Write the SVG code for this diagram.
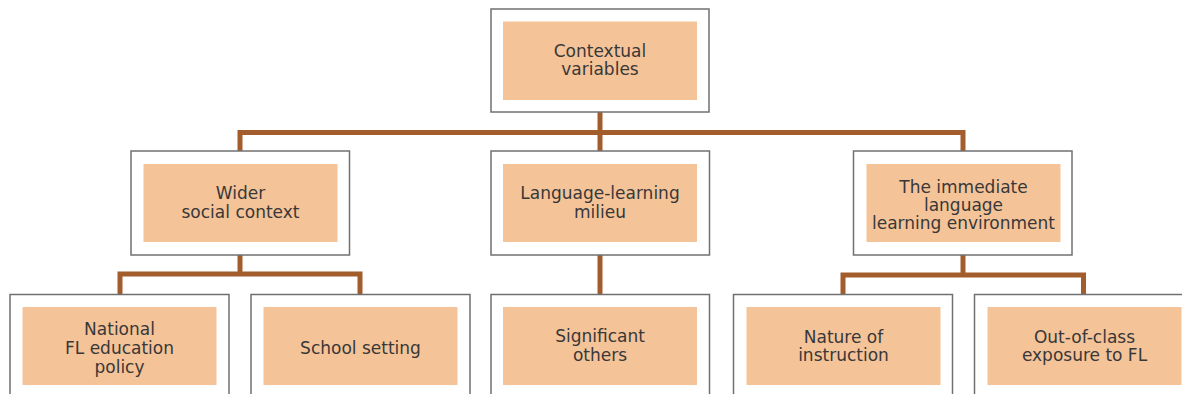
<svg xmlns="http://www.w3.org/2000/svg" width="1182" height="394" viewBox="0 0 1182 394">
<style>
.outer{fill:#fff;stroke:#707070;stroke-width:1.5}
.inner{fill:#F5C398}
.t{font-family:"DejaVu Sans",sans-serif;font-size:17px;fill:#383838;text-anchor:middle}
.c{fill:none;stroke:#A35C2C;stroke-width:5;stroke-linejoin:miter}
</style>
<rect width="1182" height="394" fill="#fff"/>
<g id="connectors">
<path class="c" d="M600 112 V151"/>
<path class="c" d="M240 151 V132.5 H963 V151"/>
<path class="c" d="M240 255 V274"/>
<path class="c" d="M120 294.5 V274 H360 V294.5"/>
<path class="c" d="M600 255 V294.5"/>
<path class="c" d="M963 255 V275"/>
<path class="c" d="M843 294.5 V275 H1083.5 V294.5"/>
</g>
<g id="contextual-variables">
<rect class="outer" x="491" y="9" width="218" height="103"/>
<rect class="inner" x="503" y="21.5" width="194" height="78.5"/>
<text class="t" x="600" y="57">Contextual</text>
<text class="t" x="600" y="75">variables</text>
</g>
<g id="wider-social-context">
<rect class="outer" x="131" y="151" width="218.5" height="104"/>
<rect class="inner" x="143.5" y="164" width="194" height="78"/>
<text class="t" x="240.5" y="199">Wider</text>
<text class="t" x="240.5" y="217.5">social context</text>
</g>
<g id="language-learning-milieu">
<rect class="outer" x="491" y="151" width="218.5" height="104"/>
<rect class="inner" x="503" y="164" width="194" height="78"/>
<text class="t" x="600" y="199">Language-learning</text>
<text class="t" x="600" y="217.5">milieu</text>
</g>
<g id="immediate-environment">
<rect class="outer" x="853.5" y="151" width="218.5" height="104"/>
<rect class="inner" x="866.5" y="164" width="194" height="78"/>
<text class="t" x="963.5" y="193">The immediate</text>
<text class="t" x="963.5" y="211">language</text>
<text class="t" x="963.5" y="229">learning environment</text>
</g>
<g id="national-policy">
<rect class="outer" x="10" y="294.5" width="219" height="110"/>
<rect class="inner" x="22.5" y="307" width="194" height="78"/>
<text class="t" x="119.5" y="334.5">National</text>
<text class="t" x="119.5" y="354">FL education</text>
<text class="t" x="119.5" y="373">policy</text>
</g>
<g id="school-setting">
<rect class="outer" x="251" y="294.5" width="219" height="110"/>
<rect class="inner" x="263.5" y="307" width="194" height="78"/>
<text class="t" x="360.5" y="353.5">School setting</text>
</g>
<g id="significant-others">
<rect class="outer" x="491" y="294.5" width="218.5" height="110"/>
<rect class="inner" x="503" y="307" width="194" height="78"/>
<text class="t" x="600" y="342">Significant</text>
<text class="t" x="600" y="360.5">others</text>
</g>
<g id="nature-of-instruction">
<rect class="outer" x="733.5" y="294.5" width="219" height="110"/>
<rect class="inner" x="746.5" y="307" width="194" height="78"/>
<text class="t" x="843.5" y="342.5">Nature of</text>
<text class="t" x="843.5" y="360.5">instruction</text>
</g>
<g id="out-of-class">
<rect class="outer" x="974.5" y="294.5" width="219" height="110"/>
<rect class="inner" x="987.5" y="307" width="194" height="78"/>
<text class="t" x="1084.5" y="342.5">Out-of-class</text>
<text class="t" x="1084.5" y="360.5">exposure to FL</text>
</g>
</svg>
